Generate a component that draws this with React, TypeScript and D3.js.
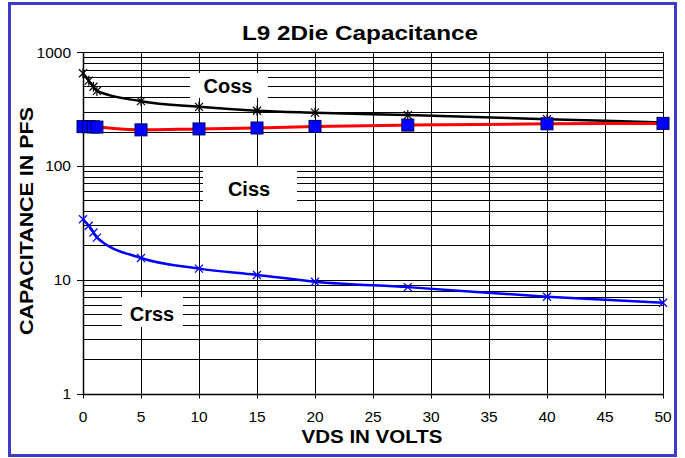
import React from 'react';
import * as d3 from 'd3';

interface Point {
  vds: number;
  pf: number;
}

// VDS values where the capacitance was measured
const vdsValues = [0, 0.5, 0.9, 1.2, 5, 10, 15, 20, 28, 40, 50];

// Capacitance readings in pF
const cossValues = [650, 560, 495, 455, 370, 330, 305, 293, 279, 257, 240];
const cissValues = [221, 221, 220, 219, 207, 211, 215, 222, 228, 234, 236];
const crssValues = [33.9, 29.8, 26, 23.4, 15.5, 12.5, 11.0, 9.6, 8.6, 7.08, 6.27];

const xTicks = [0, 5, 10, 15, 20, 25, 30, 35, 40, 45, 50];
const yTicks = [1, 10, 100, 1000];

const toPoints = (vals: number[]): Point[] => vdsValues.map((v, i) => ({ vds: v, pf: vals[i] }));

const font = "Arial, 'Liberation Sans', sans-serif";

const App: React.FC = () => {
  const width = 685;
  const height = 458;
  const left = 83;
  const right = 663;
  const top = 52;
  const bottom = 393.5;

  const x = d3.scaleLinear().domain([0, 50]).range([left, right]);
  const y = d3.scaleLog().domain([1, 1000]).range([bottom, top]);

  // minor grid values 2..9 of each decade
  const minor: number[] = [];
  [1, 10, 100].forEach(d => {
    for (let k = 2; k <= 9; k++) minor.push(d * k);
  });

  const line = d3.line<Point>()
    .x(d => x(d.vds))
    .y(d => y(d.pf))
    .curve(d3.curveMonotoneX);

  const coss = toPoints(cossValues);
  const ciss = toPoints(cissValues);
  const crss = toPoints(crssValues);

  const crisp = (v: number) => Math.round(v) + 0.5;

  return (
    <svg width={width} height={height} style={{ position: 'absolute', left: 0, top: 0, background: '#fff' }}>
      <rect x={9.5} y={3.5} width={666} height={452} fill="#fff" stroke="#3c3cc8" strokeWidth={3} />

      <text x={360} y={40} textAnchor="middle" fontFamily={font} fontWeight="bold" fontSize={21}
        textLength={236} lengthAdjust="spacingAndGlyphs">
        L9 2Die Capacitance
      </text>

      {/* horizontal grid */}
      {minor.map(v => (
        <line key={'m' + v} x1={left} x2={right} y1={crisp(y(v))} y2={crisp(y(v))} stroke="#000" strokeWidth={1} />
      ))}
      {yTicks.map(v => (
        <line key={'M' + v} x1={left - 6} x2={right} y1={crisp(y(v))} y2={crisp(y(v))} stroke="#000" strokeWidth={1} />
      ))}

      {/* vertical grid */}
      {xTicks.map(v => (
        <line key={'v' + v} x1={crisp(x(v))} x2={crisp(x(v))} y1={top} y2={bottom + 5} stroke="#000" strokeWidth={1} />
      ))}

      {/* series labels with white backgrounds */}
      <rect x={190} y={73} width={78} height={25} fill="#fff" />
      <text x={228} y={93} textAnchor="middle" fontFamily={font} fontWeight="bold" fontSize={20}>Coss</text>
      <rect x={203} y={167} width={94} height={43} fill="#fff" />
      <text x={249} y={196} textAnchor="middle" fontFamily={font} fontWeight="bold" fontSize={20}>Ciss</text>
      <rect x={122} y={297} width={61} height={30} fill="#fff" />
      <text x={152} y={321} textAnchor="middle" fontFamily={font} fontWeight="bold" fontSize={20}>Crss</text>

      {/* axis lines */}
      <line x1={crisp(left)} x2={crisp(left)} y1={top} y2={bottom} stroke="#000" strokeWidth={1.5} />
      <line x1={left} x2={right} y1={crisp(bottom)} y2={crisp(bottom)} stroke="#000" strokeWidth={1.5} />

      {/* Coss */}
      <path d={line(coss) || ''} fill="none" stroke="#000" strokeWidth={2.5} />
      {coss.map((d, i) => {
        const cx = x(d.vds);
        const cy = y(d.pf);
        const s = 4;
        return (
          <g key={'c' + i} stroke="#000" strokeWidth={1.2}>
            <line x1={cx - s} x2={cx + s} y1={cy - s} y2={cy + s} />
            <line x1={cx - s} x2={cx + s} y1={cy + s} y2={cy - s} />
            <line x1={cx} x2={cx} y1={cy - s - 1} y2={cy + s + 1} />
          </g>
        );
      })}

      {/* Ciss */}
      <path d={line(ciss) || ''} fill="none" stroke="#ff0000" strokeWidth={3} />
      {ciss.map((d, i) => (
        <rect key={'s' + i} x={x(d.vds) - 6} y={y(d.pf) - 6} width={12} height={12}
          fill="#0000ff" stroke="#000060" strokeWidth={1} />
      ))}

      {/* Crss */}
      <path d={line(crss) || ''} fill="none" stroke="#0000ff" strokeWidth={2.5} />
      {crss.map((d, i) => {
        const cx = x(d.vds);
        const cy = y(d.pf);
        const s = 4;
        return (
          <g key={'r' + i} stroke="#0000ff" strokeWidth={1.3}>
            <line x1={cx - s} x2={cx + s} y1={cy - s} y2={cy + s} />
            <line x1={cx - s} x2={cx + s} y1={cy + s} y2={cy - s} />
          </g>
        );
      })}

      {/* y tick labels */}
      {yTicks.map(v => (
        <text key={'yl' + v} x={71} y={y(v) + 5.5} textAnchor="end" fontFamily={font} fontSize={15.5}>
          {v}
        </text>
      ))}

      {/* x tick labels */}
      {xTicks.map(v => (
        <text key={'xl' + v} x={x(v)} y={422} textAnchor="middle" fontFamily={font} fontSize={15.5}>
          {v}
        </text>
      ))}

      <text x={372} y={443} textAnchor="middle" fontFamily={font} fontWeight="bold" fontSize={18}
        textLength={141} lengthAdjust="spacingAndGlyphs">
        VDS IN VOLTS
      </text>
      <text transform="translate(33,221) rotate(-90)" textAnchor="middle" fontFamily={font} fontWeight="bold" fontSize={18}
        textLength={228} lengthAdjust="spacingAndGlyphs">
        CAPACITANCE IN PFS
      </text>
    </svg>
  );
};

export default App;
